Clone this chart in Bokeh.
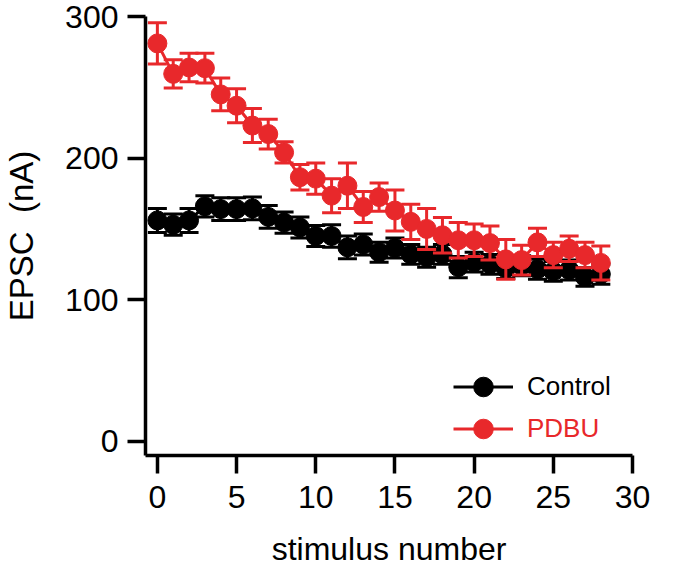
from bokeh.plotting import figure
from bokeh.models import Range1d, FixedTicker, Legend, LegendItem
from bokeh.embed import file_html
from bokeh.resources import INLINE

# ---- data ----
stimulus = list(range(29))
control_mean = [156, 153, 156, 166, 164, 164, 164.5, 158.5, 154.5, 151, 145, 145, 137, 139,
                133.5, 136.5, 132, 130, 132, 123, 126.5, 125, 122, 124, 121.5, 120, 121, 116, 118]
control_sem = [8.5, 7.5, 8.5, 7.5, 8, 8, 8, 8, 7.5, 7.5, 7.5, 8, 8, 7.5,
               7, 7, 7, 7, 7, 7.5, 7, 7, 7, 7, 7, 7, 7, 6.5, 7]
pdbu_mean = [281, 259.5, 264, 263.5, 245, 237, 223, 217, 204, 186.5, 185.5, 173.5, 180.5, 165.5,
             172.5, 163, 155, 150, 145.5, 142, 142, 140, 128.5, 128, 140.5, 131.5, 136, 131.5, 126]
pdbu_sem = [14.5, 10, 10, 10.5, 11.5, 12, 12, 10.5, 7.5, 9, 11, 12, 16, 11,
            10, 14.5, 12.5, 14.5, 12.5, 12.5, 11.5, 12, 14, 10.5, 10, 9, 9, 9, 12]
series_names = ["Control", "PDBU"]
x_ticks = [0, 5, 10, 15, 20, 25, 30]
y_ticks = [0, 100, 200, 300]
x_title = "stimulus number"
y_title = "EPSC\u00a0\u00a0(nA)"

BLACK = "#000000"
RED = "#E8282B"
FONT = "Liberation Sans"

p = figure(output_backend="svg", toolbar_location=None,
           x_range=Range1d(-0.75, 30), y_range=Range1d(-10, 300),
           frame_width=487, frame_height=439,
           min_border_left=145, min_border_top=16, min_border_right=45, min_border_bottom=109,
           background_fill_color="white", border_fill_color="white")
p.outline_line_color = None
p.grid.visible = False

for ax in (p.xaxis[0], p.yaxis[0]):
    ax.axis_line_width = 3.5
    ax.major_tick_line_width = 3.5
    ax.major_tick_in = 0
    ax.major_tick_out = 18
    ax.minor_tick_line_color = None
    ax.major_label_text_font = FONT
    ax.major_label_text_font_size = "32px"
    ax.major_label_text_color = "black"
    ax.axis_label_text_font = FONT
    ax.axis_label_text_font_style = "normal"
    ax.axis_label_text_color = "black"

p.xaxis.axis_label_text_font_size = "32px"
p.yaxis.axis_label_text_font_size = "33px"
p.xaxis.ticker = FixedTicker(ticks=x_ticks)
p.yaxis.ticker = FixedTicker(ticks=y_ticks)
p.xaxis.axis_label = x_title
p.yaxis.axis_label = y_title
p.xaxis.major_label_standoff = 12
p.yaxis.major_label_standoff = 9
p.xaxis.axis_label_standoff = 20
p.yaxis.axis_label_standoff = 22


def draw(mean, sem, color):
    lower = [m - s for m, s in zip(mean, sem)]
    upper = [m + s for m, s in zip(mean, sem)]
    p.segment(x0=stimulus, y0=lower, x1=stimulus, y1=upper, line_color=color, line_width=3)
    p.scatter(x=stimulus, y=lower, marker="dash", size=19, line_color=color, line_width=3)
    p.scatter(x=stimulus, y=upper, marker="dash", size=19, line_color=color, line_width=3)
    ln = p.line(x=stimulus, y=mean, line_color=color, line_width=3)
    sc = p.scatter(x=stimulus, y=mean, marker="circle", size=19,
                   fill_color=color, line_color=color, line_width=1)
    return ln, sc


ctrl_ln, ctrl_sc = draw(control_mean, control_sem, BLACK)
pdbu_ln, pdbu_sc = draw(pdbu_mean, pdbu_sem, RED)


def make_legend(name, renderers, color, loc):
    lg = Legend(items=[LegendItem(label=name, renderers=renderers)], location=loc,
                glyph_width=60, glyph_height=49, label_standoff=14, padding=0, margin=0,
                spacing=0, border_line_alpha=0, background_fill_alpha=0,
                label_text_font=FONT, label_text_font_size="26px", label_text_color=color)
    p.add_layout(lg, "center")


make_legend(series_names[0], [ctrl_ln, ctrl_sc], BLACK, (308, 44))
make_legend(series_names[1], [pdbu_ln, pdbu_sc], RED, (308, 2))

open("out.html", "w").write(file_html(p, INLINE))
